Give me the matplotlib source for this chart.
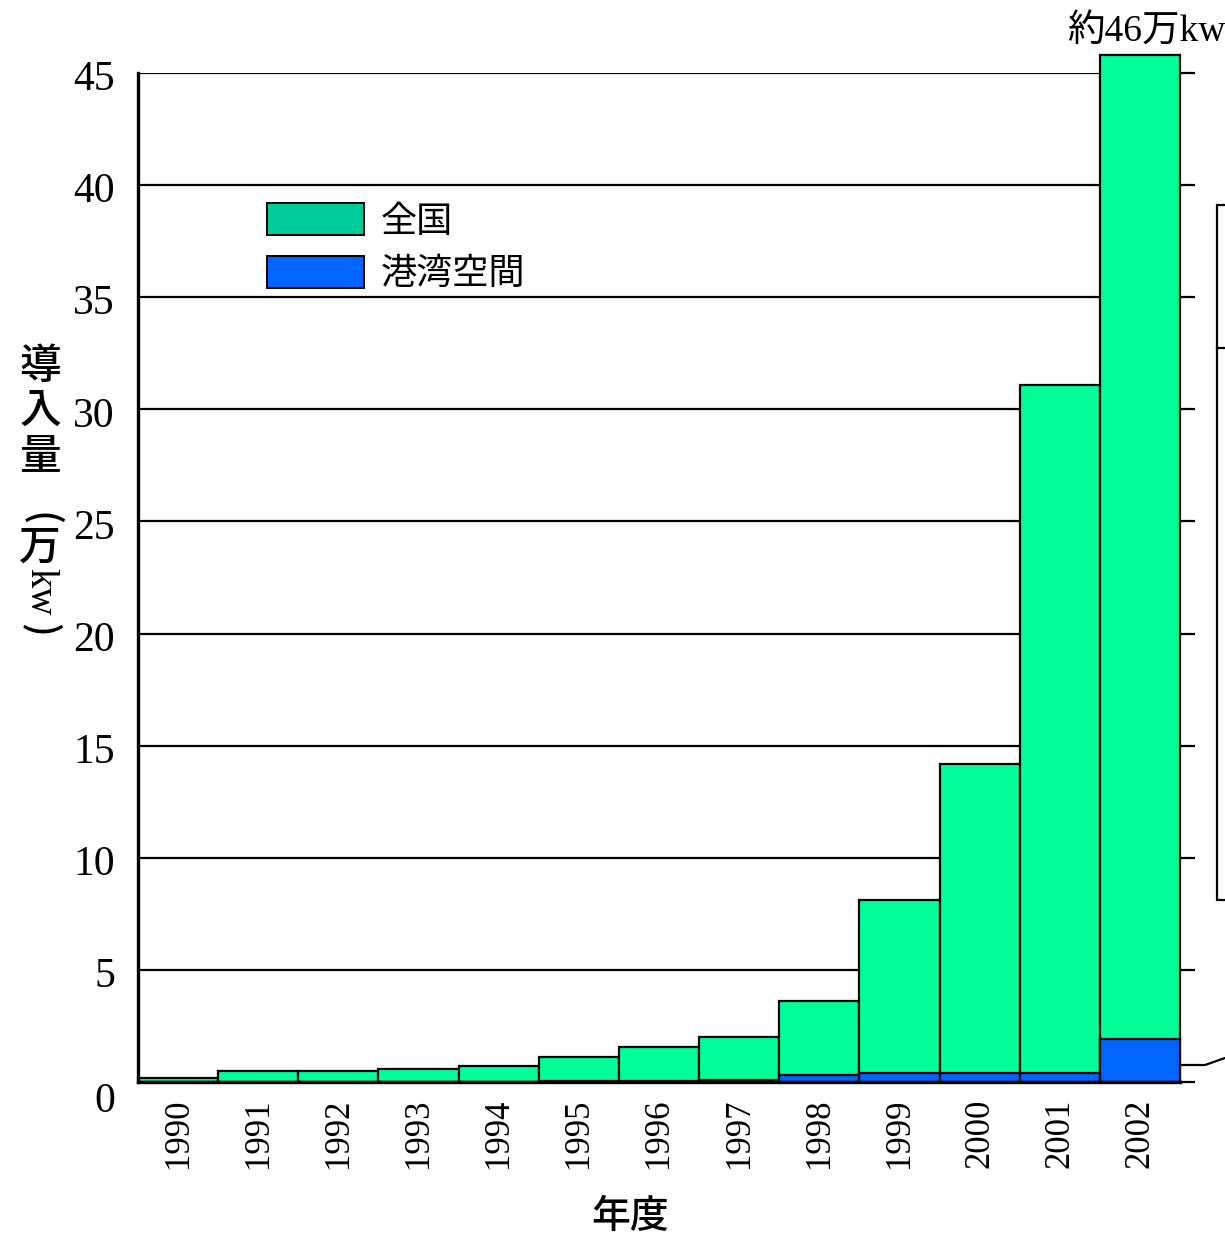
import matplotlib
matplotlib.use("Agg")
import matplotlib.pyplot as plt
import matplotlib.transforms as mtransforms
from matplotlib.patches import Patch, Rectangle
import numpy as np

years = ["1990", "1991", "1992", "1993", "1994", "1995", "1996",
         "1997", "1998", "1999", "2000", "2001", "2002"]
national = [0.2, 0.5, 0.5, 0.6, 0.7, 1.1, 1.55, 2.0, 3.6, 8.1, 14.2, 31.1, 45.8]
port_area = [0.0, 0.0, 0.0, 0.0, 0.0, 0.05, 0.05, 0.1, 0.3, 0.4, 0.4, 0.4, 1.9]
yticks = [0, 5, 10, 15, 20, 25, 30, 35, 40, 45]

SERIF = ["Liberation Serif", "Noto Sans CJK JP"]
CJK = ["Noto Sans CJK JP", "DejaVu Sans"]

fig = plt.figure(figsize=(12.25, 12.38), dpi=100)
ax = fig.add_axes([138 / 1225, 1 - 1082 / 1238, (1180 - 138) / 1225, (1082 - 73) / 1238])

x = np.arange(len(years))
ax.bar(x, national, width=1.0, color="#00FF99", edgecolor="black", linewidth=1.6,
       zorder=3, clip_on=False)
ax.bar(x, port_area, width=1.0, color="#0066FF", edgecolor="black", linewidth=1.6,
       zorder=4, clip_on=False)

ax.set_xlim(-0.5, len(years) - 0.5)
ax.set_ylim(0, 45)
ax.set_yticks(yticks)
ax.set_yticklabels([])
# y tick labels drawn by hand: they sit a little below their grid lines
shift = mtransforms.ScaledTranslation(-23 / 100, -7 / 100, fig.dpi_scale_trans)
for v in yticks:
    if v == 0:
        ax.text(0, v, str(v), family=SERIF, fontsize=30, ha="right", va="top",
                transform=ax.get_yaxis_transform() + mtransforms.ScaledTranslation(
                    -23 / 100, 0, fig.dpi_scale_trans))
    else:
        ax.text(0, v, str(v), family=SERIF, fontsize=30, ha="right", va="center",
                transform=ax.get_yaxis_transform() + shift)
ax.set_xticks(x)
ax.set_xticklabels(years, rotation=90, family=SERIF, fontsize=25)
ax.yaxis.grid(True, color="black", linewidth=1.6, zorder=1)
ax.set_axisbelow(True)
ax.tick_params(axis="x", length=0, pad=12)
ax.tick_params(axis="y", left=False, right=True, direction="out", length=11, width=1.6)
for side in ["top", "right"]:
    ax.spines[side].set_visible(False)
for side in ["left", "bottom"]:
    ax.spines[side].set_linewidth(2.4)
    ax.spines[side].set_zorder(5)

ax.text(12.08, 46.05, "約46万kw", family=SERIF, fontsize=27, ha="center", va="bottom",
        clip_on=False)

handles = [Patch(facecolor="#00CC99", edgecolor="black", linewidth=1.4, label="全国"),
           Patch(facecolor="#0066FF", edgecolor="black", linewidth=1.4, label="港湾空間")]
ax.legend(handles=handles, loc="upper left", bbox_to_anchor=(0.106, 0.889), frameon=False,
          prop={"family": CJK, "size": 26}, handlelength=2.7, handleheight=1.0,
          labelspacing=0.45, handletextpad=0.45, borderpad=0)

# y label: upright kanji, rotated parentheses and "kw"
for ch, yy, rot, fam, fs in [("導", 366, 0, CJK, 30), ("入", 410, 0, CJK, 30),
                             ("量", 456, 0, CJK, 30), ("(", 519, -90, CJK, 28),
                             ("万", 547, 0, CJK, 30), ("kw", 592, -90, SERIF, 28),
                             (")", 630, -90, CJK, 28)]:
    fig.text(40 / 1225, 1 - yy / 1238, ch, family=fam, fontsize=fs, rotation=rot,
             fontweight="medium", ha="center", va="center")

fig.text(630 / 1225, 1 - 1217 / 1238, "年度", family=CJK, fontsize=28,
         fontweight="medium", ha="center", va="center")

# cut-off inset on the right edge
fig.patches.append(Rectangle((1217 / 1225, 1 - 900 / 1238), 0.05, (900 - 205) / 1238,
                             transform=fig.transFigure, facecolor="white",
                             edgecolor="black", linewidth=1.6))
fig.lines.append(plt.Line2D([1217 / 1225, 1.0], [1 - 348 / 1238, 1 - 348 / 1238],
                            transform=fig.transFigure, color="black", linewidth=1.6))
fig.lines.append(plt.Line2D([1180 / 1225, 1205 / 1225, 1.0],
                            [1 - 1065 / 1238, 1 - 1065 / 1238, 1 - 1058 / 1238],
                            transform=fig.transFigure, color="black", linewidth=1.6))

fig.savefig("out.png", dpi=100)
